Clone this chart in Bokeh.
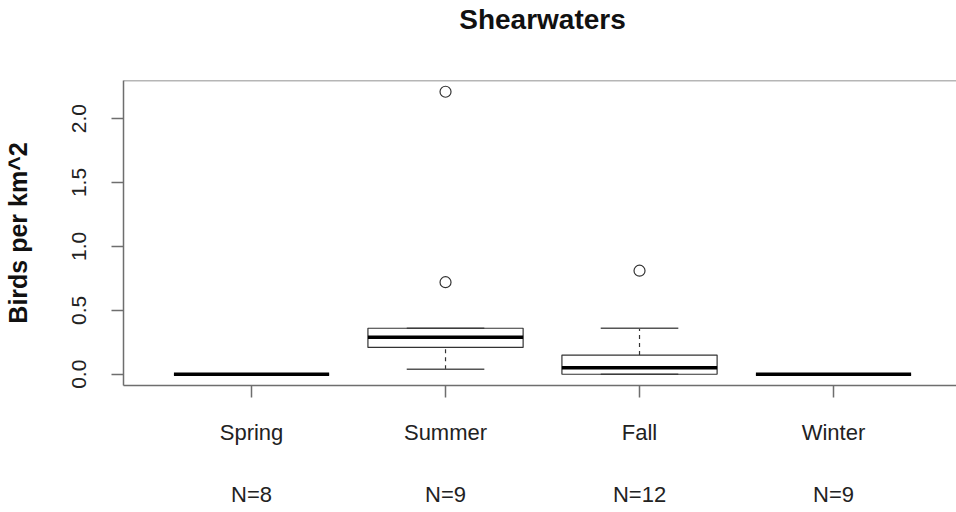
from bokeh.plotting import figure
from bokeh.models import (Range1d, FixedTicker, LinearAxis, Span, ColumnDataSource)
from bokeh.embed import file_html
from bokeh.resources import INLINE

# ---- data ----
title_text = "Shearwaters"
seasons = ["Spring", "Summer", "Fall", "Winter"]
n_labels = ["N=8", "N=9", "N=12", "N=9"]
positions = [1, 2, 3, 4]
whisker_lo = [0.0, 0.04, 0.0, 0.0]
q1 = [0.0, 0.21, 0.0, 0.0]
median = [0.0, 0.29, 0.05, 0.0]
q3 = [0.0, 0.36, 0.15, 0.0]
whisker_hi = [0.0, 0.36, 0.36, 0.0]
outlier_pos = [2, 2, 3]
outlier_val = [2.21, 0.72, 0.81]
y_ticks = [0.0, 0.5, 1.0, 1.5, 2.0]

FONT = "Liberation Sans"
AXIS_GRAY = "#6e6e6e"
BOX_W = 0.8
CAP_W = 0.4
W, H = 956, 512
LEFT, TOP, BOTTOM = 123, 80, 127

p = figure(width=W, height=H, output_backend="svg", toolbar_location=None,
           x_range=Range1d(0.34, 4.634), y_range=Range1d(-0.088, 2.298),
           x_axis_type=None, y_axis_type=None,
           min_border_left=LEFT, min_border_right=0, min_border_top=TOP,
           min_border_bottom=BOTTOM)
p.grid.visible = False
p.outline_line_color = None
p.background_fill_color = "white"
p.border_fill_color = "white"

# title, centred over the plot region (centre of the category span)
title_pos = (positions[0] + positions[-1]) / 2
tax = LinearAxis(ticker=FixedTicker(ticks=[title_pos]))
tax.major_label_overrides = {title_pos: title_text}
tax.axis_line_color = None
tax.major_tick_line_color = None
tax.minor_tick_line_color = None
tax.major_tick_out = 0
tax.major_tick_in = 0
tax.major_label_text_font = FONT
tax.major_label_text_font_size = "28px"
tax.major_label_text_font_style = "bold"
tax.major_label_text_color = "#111111"
tax.major_label_standoff = 46
p.add_layout(tax, "above")

# y axis
yax = LinearAxis(ticker=FixedTicker(ticks=y_ticks), axis_label="Birds per km^2")
yax.major_label_overrides = {t: f"{t:.1f}" for t in y_ticks}
yax.major_label_orientation = "vertical"
yax.major_tick_out = 12
yax.major_tick_in = 0
yax.minor_tick_out = 0
yax.minor_tick_in = 0
yax.axis_line_color = AXIS_GRAY
yax.axis_line_width = 1.5
yax.major_tick_line_color = AXIS_GRAY
yax.major_tick_line_width = 1.5
yax.major_label_text_font = FONT
yax.major_label_text_font_size = "21px"
yax.major_label_text_color = "#222222"
yax.major_label_standoff = 25
yax.axis_label_text_font = FONT
yax.axis_label_text_font_size = "25px"
yax.axis_label_text_font_style = "bold"
yax.axis_label_text_color = "#111111"
yax.axis_label_standoff = 38
p.add_layout(yax, "left")

# x axis with category labels
xax = LinearAxis(ticker=FixedTicker(ticks=positions))
xax.major_label_overrides = {pos: s for pos, s in zip(positions, seasons)}
xax.major_tick_out = 12
xax.major_tick_in = 0
xax.minor_tick_out = 0
xax.minor_tick_in = 0
xax.axis_line_color = AXIS_GRAY
xax.axis_line_width = 1.5
xax.major_tick_line_color = AXIS_GRAY
xax.major_tick_line_width = 1.5
xax.major_label_text_font = FONT
xax.major_label_text_font_size = "22px"
xax.major_label_text_color = "#222222"
xax.major_label_standoff = 22
p.add_layout(xax, "below")

# second row of labels: sample sizes
nax = LinearAxis(ticker=FixedTicker(ticks=positions))
nax.major_label_overrides = {pos: s for pos, s in zip(positions, n_labels)}
nax.axis_line_color = None
nax.major_tick_line_color = None
nax.minor_tick_line_color = None
nax.major_tick_out = 0
nax.major_tick_in = 0
nax.major_label_text_font = FONT
nax.major_label_text_font_size = "22px"
nax.major_label_text_color = "#222222"
nax.major_label_standoff = 34
p.add_layout(nax, "below")

# top frame line
p.add_layout(Span(location=2.298, dimension="width", line_color=AXIS_GRAY, line_width=1.5))

cap_l = [x - CAP_W / 2 for x in positions]
cap_r = [x + CAP_W / 2 for x in positions]
box_l = [x - BOX_W / 2 for x in positions]
box_r = [x + BOX_W / 2 for x in positions]
src = ColumnDataSource(dict(x=positions, lo=whisker_lo, q1=q1, med=median, q3=q3,
                            hi=whisker_hi, cl=cap_l, cr=cap_r, bl=box_l, br=box_r))

# whiskers (dashed)
p.segment(x0="x", y0="q3", x1="x", y1="hi", source=src, line_color="#333333",
          line_width=1.2, line_dash="4 4")
p.segment(x0="x", y0="lo", x1="x", y1="q1", source=src, line_color="#333333",
          line_width=1.2, line_dash="4 4")
# caps
p.segment(x0="cl", x1="cr", y0="hi", y1="hi", source=src, line_color="#555555", line_width=1.5)
p.segment(x0="cl", x1="cr", y0="lo", y1="lo", source=src, line_color="#555555", line_width=1.5)
# boxes
p.quad(left="bl", right="br", bottom="q1", top="q3", source=src,
       fill_color=None, line_color="#333333", line_width=1.2)
# medians
p.segment(x0="bl", x1="br", y0="med", y1="med", source=src,
          line_color="#000000", line_width=3.5)
# outliers
p.scatter(x=outlier_pos, y=outlier_val, marker="circle", size=11, fill_color=None,
          line_color="#333333", line_width=1.2)

open("out.html", "w").write(file_html(p, INLINE))
